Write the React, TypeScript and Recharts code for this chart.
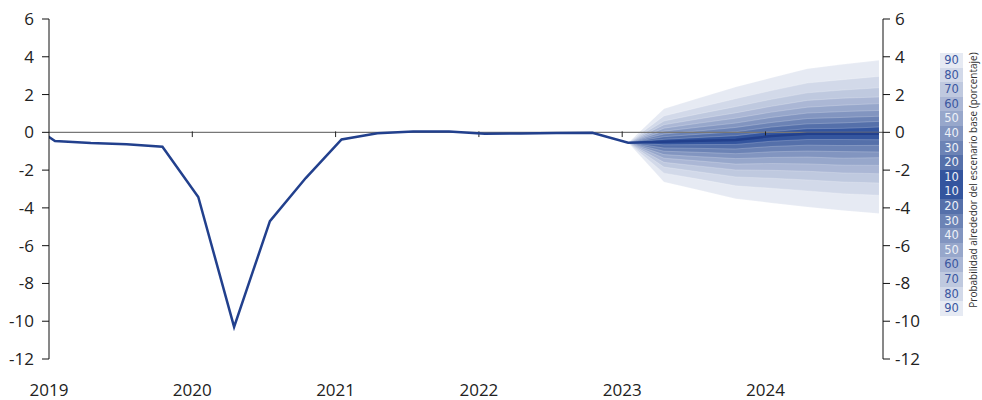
import {
  ComposedChart,
  Area,
  Line,
  XAxis,
  YAxis,
  ReferenceLine,
} from "recharts";

// quarterly output gap, history + central projection
const quarters = [
  "2018T4",
  "2019T1", "2019T2", "2019T3", "2019T4",
  "2020T1", "2020T2", "2020T3", "2020T4",
  "2021T1", "2021T2", "2021T3", "2021T4",
  "2022T1", "2022T2", "2022T3", "2022T4",
  "2023T1", "2023T2", "2023T3", "2023T4",
  "2024T1", "2024T2", "2024T3", "2024T4",
];
const gap = [
  0.8,
  -0.46, -0.57, -0.63, -0.76,
  -3.42, -10.3, -4.7, -2.42,
  -0.38, -0.05, 0.04, 0.04,
  -0.08, -0.06, -0.04, -0.02,
  -0.55, -0.5, -0.45, -0.4,
  -0.2, -0.08, -0.07, -0.07,
];

// fan chart bounds, from 2023T1 to 2024T4
const fanStart = "2023T1";
const upper90 = [-0.55, 1.25, 1.83, 2.4, 2.89, 3.37, 3.6, 3.81];
const upper80 = [-0.55, 0.87, 1.33, 1.78, 2.21, 2.61, 2.79, 2.96];
const upper70 = [-0.55, 0.6, 0.99, 1.36, 1.75, 2.09, 2.24, 2.36];
const upper60 = [-0.55, 0.4, 0.72, 1.03, 1.38, 1.69, 1.81, 1.87];
const upper50 = [-0.55, 0.22, 0.49, 0.75, 1.07, 1.33, 1.44, 1.52];
const upper40 = [-0.55, 0.06, 0.28, 0.49, 0.79, 1.02, 1.1, 1.16];
const upper30 = [-0.55, -0.09, 0.08, 0.26, 0.52, 0.73, 0.79, 0.85];
const upper20 = [-0.55, -0.23, -0.1, 0.03, 0.28, 0.45, 0.5, 0.58];
const upper10 = [-0.55, -0.37, -0.27, -0.18, 0.04, 0.19, 0.21, 0.28];
const lower10 = [-0.55, -0.66, -0.65, -0.64, -0.47, -0.38, -0.38, -0.39];
const lower20 = [-0.55, -0.83, -0.85, -0.88, -0.75, -0.68, -0.7, -0.69];
const lower30 = [-0.55, -1.0, -1.06, -1.13, -1.03, -0.99, -1.02, -1.04];
const lower40 = [-0.55, -1.18, -1.29, -1.39, -1.33, -1.31, -1.37, -1.34];
const lower50 = [-0.55, -1.37, -1.52, -1.68, -1.65, -1.67, -1.74, -1.75];
const lower60 = [-0.55, -1.59, -1.79, -1.99, -2.01, -2.06, -2.15, -2.19];
const lower70 = [-0.55, -1.84, -2.1, -2.36, -2.43, -2.52, -2.63, -2.68];
const lower80 = [-0.55, -2.16, -2.49, -2.83, -2.96, -3.1, -3.25, -3.33];
const lower90 = [-0.55, -2.63, -3.07, -3.51, -3.74, -3.95, -4.14, -4.3];

const years = [2019, 2020, 2021, 2022, 2023, 2024];
const yTicks = [-12, -10, -8, -6, -4, -2, 0, 2, 4, 6];
const legendLevels = [90, 80, 70, 60, 50, 40, 30, 20, 10];

const bands = [
  { level: 90, upper: upper90, lower: lower90, color: "#e6eaf3" },
  { level: 80, upper: upper80, lower: lower80, color: "#d2d9e9" },
  { level: 70, upper: upper70, lower: lower70, color: "#bfc9df" },
  { level: 60, upper: upper60, lower: lower60, color: "#abb7d5" },
  { level: 50, upper: upper50, lower: lower50, color: "#97a7cb" },
  { level: 40, upper: upper40, lower: lower40, color: "#8295c0" },
  { level: 30, upper: upper30, lower: lower30, color: "#6c83b5" },
  { level: 20, upper: upper20, lower: lower20, color: "#5570aa" },
  { level: 10, upper: upper10, lower: lower10, color: "#34559e" },
];
const colorOf = (lvl: number) => bands.find((b) => b.level === lvl)!.color;

// quarter label -> decimal year (mid first month of the quarter)
const toYear = (q: string) =>
  Number(q.slice(0, 4)) + (Number(q.slice(5)) - 1) * 0.25 + 1 / 24;

const fanIdx = quarters.indexOf(fanStart);
const data = quarters.map((q, i) => {
  const row: Record<string, number> = { t: toYear(q), gap: gap[i] };
  const j = i - fanIdx;
  if (j >= 0) {
    bands.forEach((b) => {
      row[`lo${b.level}`] = b.lower[j];
      row[`hi${b.level}`] = b.upper[j];
    });
  }
  return row;
});

const FONT = "'Open Sans', sans-serif";
const tickStyle = { fill: "#222", fontSize: 17, fontFamily: FONT };

export default function App() {
  return (
    <div style={{ position: "absolute", left: 0, top: 0, width: 982, height: 400, fontFamily: FONT }}>
      <ComposedChart
        width={982}
        height={400}
        data={data}
        margin={{ top: 19, right: 0, bottom: 0, left: 0 }}
      >
        <XAxis
          dataKey="t"
          type="number"
          domain={[2019, 2024.82]}
          ticks={years}
          allowDataOverflow
          axisLine={false}
          tickLine={false}
          tickMargin={19}
          height={41}
          tick={tickStyle}
          interval={0}
        />
        <YAxis
          yAxisId="left"
          domain={[-12, 6]}
          ticks={yTicks}
          width={49}
          interval={0}
          axisLine={{ stroke: "#111" }}
          tickLine={{ stroke: "#111" }}
          tickSize={7}
          tickMargin={8}
          tick={tickStyle}
        />
        <YAxis
          yAxisId="right"
          orientation="right"
          domain={[-12, 6]}
          ticks={yTicks}
          width={99}
          interval={0}
          axisLine={{ stroke: "#111" }}
          tickLine={{ stroke: "#111" }}
          tickSize={7}
          tickMargin={5}
          tick={tickStyle}
        />
        {bands.map((b) => (
          <Area
            key={b.level}
            yAxisId="left"
            type="linear"
            dataKey={(d: Record<string, number>) =>
              d[`hi${b.level}`] === undefined ? null : [d[`lo${b.level}`], d[`hi${b.level}`]]
            }
            fill={b.color}
            fillOpacity={1}
            stroke="#ffffff"
            strokeOpacity={0.35}
            strokeWidth={0.6}
            isAnimationActive={false}
            dot={false}
            activeDot={false}
          />
        ))}
        <ReferenceLine yAxisId="left" y={0} stroke="#777" strokeWidth={1.3} />
        {years.slice(1).map((y) => (
          <ReferenceLine
            key={y}
            yAxisId="left"
            segment={[
              { x: y, y: 0.05 },
              { x: y, y: -0.25 },
            ]}
            stroke="#222"
          />
        ))}
        {/* invisible copy so the right axis gets its scale */}
        <Line
          yAxisId="right"
          type="linear"
          dataKey="gap"
          stroke="none"
          dot={false}
          activeDot={false}
          isAnimationActive={false}
        />
        <Line
          yAxisId="left"
          type="linear"
          dataKey="gap"
          stroke="#22408d"
          strokeWidth={2.5}
          dot={false}
          activeDot={false}
          isAnimationActive={false}
        />
      </ComposedChart>

      <div style={{ position: "absolute", left: 940, top: 53, width: 23 }}>
        {[...legendLevels, ...[...legendLevels].reverse()].map((lvl, i) => (
          <div
            key={i}
            style={{
              height: 14.6,
              lineHeight: "14.6px",
              background: colorOf(lvl),
              color: lvl >= 60 ? "#3a56a0" : "#eef1f8",
              fontFamily: "'DejaVu Sans', sans-serif",
              fontSize: 11.5,
              textAlign: "center",
            }}
          >
            {lvl}
          </div>
        ))}
      </div>
      <div
        style={{
          position: "absolute",
          left: 973 - 150,
          top: 180 - 7,
          width: 300,
          height: 14,
          lineHeight: "14px",
          fontSize: 10,
          color: "#333",
          textAlign: "center",
          whiteSpace: "nowrap",
          transform: "rotate(-90deg)",
        }}
      >
        Probabilidad alrededor del escenario base (porcentaje)
      </div>
    </div>
  );
}
